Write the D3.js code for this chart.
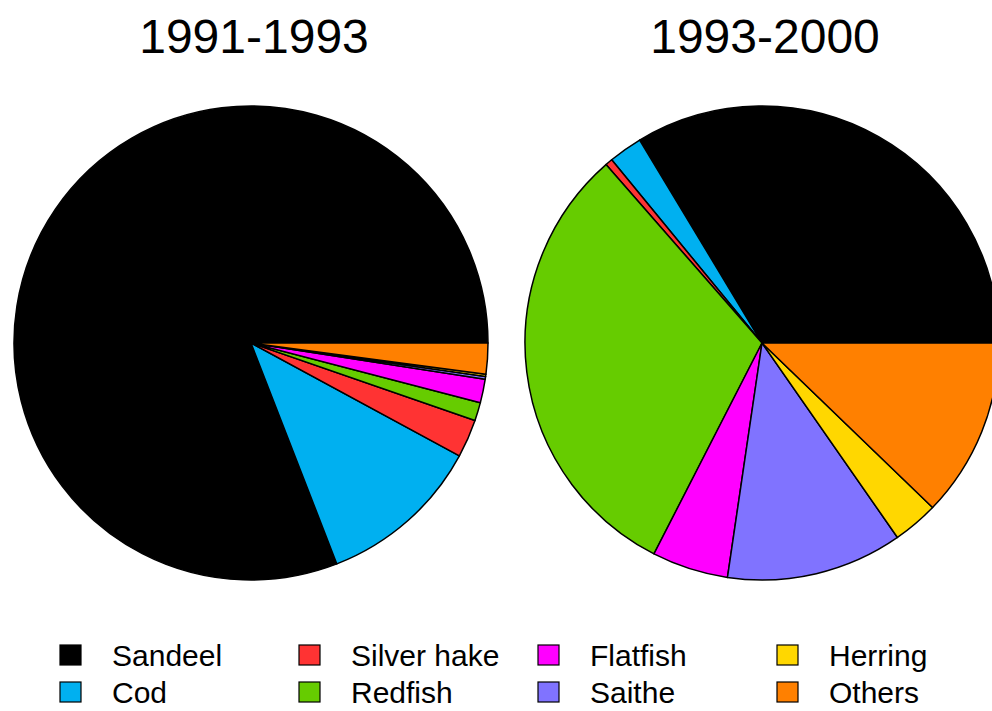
<!DOCTYPE html>
<html>
<head>
<meta charset="utf-8">
<script src="https://cdn.jsdelivr.net/npm/d3@7"></script>
<style>
  body { margin: 0; background: #fff; }
  text { font-family: "Liberation Sans", Arial, sans-serif; fill: #000; }
</style>
</head>
<body>
<div class="chart"></div>
<script>
var svgWidth = 992;
var svgHeight = 711;

// species, in the order the slices are drawn
var species = ["Sandeel", "Cod", "Silver hake", "Redfish", "Flatfish", "Saithe", "Herring", "Others"];
var colors = ["#000000", "#00B0F0", "#FF3333", "#66CC00", "#FF00FF", "#8073FF", "#FFD700", "#FF8000"];

// period titles
var periods = ["1991-1993", "1993-2000"];

// share of catch (%) per period
var share1991 = [80.9, 11.2, 2.6, 1.25, 1.6, 0.2, 0.15, 2.1];
var share1993 = [33.6, 2.3, 0.5, 31.0, 5.2, 12.0, 3.1, 12.2];

var svg = d3.select(".chart")
  .append("svg")
  .attr("width", svgWidth)
  .attr("height", svgHeight);

var radius = 237;
var centers = [{x: 251, y: 343}, {x: 762, y: 343}];

var color = d3.scaleOrdinal()
  .domain(species)
  .range(colors);

// R style pie: start at 3 o'clock and go counterclockwise
var pie = d3.pie()
  .sort(null)
  .value(d => d.value)
  .startAngle(Math.PI / 2)
  .endAngle(Math.PI / 2 - 2 * Math.PI);

var arc = d3.arc()
  .innerRadius(0)
  .outerRadius(radius);

[share1991, share1993].forEach(function(values, i) {
  var rows = species.map((s, j) => ({name: s, value: values[j]}));

  var g = svg.append("g")
    .attr("transform", `translate(${centers[i].x}, ${centers[i].y})`);

  g.selectAll("path")
    .data(pie(rows))
    .enter()
    .append("path")
    .attr("d", arc)
    .attr("fill", d => color(d.data.name))
    .attr("stroke", "#000")
    .attr("stroke-width", 1.5)
    .attr("stroke-linejoin", "round");

  // title
  svg.append("text")
    .attr("x", centers[i].x + 3)
    .attr("y", 53)
    .attr("text-anchor", "middle")
    .style("font-size", "48px")
    .text(periods[i]);
});

// legend, filled by column
var legend = svg.append("g");
var colStep = 239;

var items = legend.selectAll("g")
  .data(species)
  .enter()
  .append("g")
  .attr("transform", (d, i) => `translate(${60 + Math.floor(i / 2) * colStep}, ${645 + (i % 2) * 37})`);

items.append("rect")
  .attr("width", 21)
  .attr("height", 20)
  .attr("fill", d => color(d))
  .attr("stroke", "#000")
  .attr("stroke-width", 1.2);

items.append("text")
  .attr("x", 52)
  .attr("y", 21)
  .style("font-size", "30px")
  .text(d => d);
</script>
</body>
</html>
